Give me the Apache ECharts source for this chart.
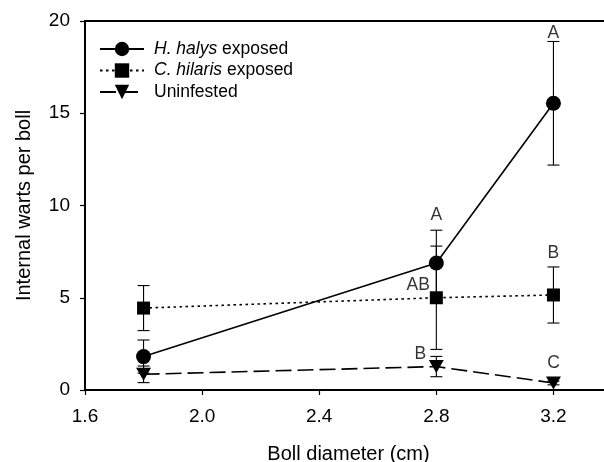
<!DOCTYPE html>
<html><head><meta charset="utf-8">
<script src="https://cdn.jsdelivr.net/npm/echarts@6/dist/echarts.min.js"></script>
<style>html,body{margin:0;padding:0;background:#fff}#c{width:604px;height:462px}</style>
</head><body><div id="c"></div>
<script>
const xVals = [1.8, 2.8, 3.2];
const halysMean = [1.81, 6.88, 15.54];
const halysErr = [0.9, 1.78, 3.35];
const hilarisMean = [4.44, 5.0, 5.15];
const hilarisErr = [1.22, 2.8, 1.52];
const uninfMean = [0.85, 1.27, 0.38];
const uninfErr = [0.45, 0.55, 0.1];
const letterText = ['A', 'A', 'AB', 'B', 'B', 'C'];
const letterX = [2.8, 3.2, 2.738, 3.2, 2.745, 3.2];
const letterY = [9.45, 19.35, 5.7, 7.4, 1.93, 1.45];
const xTicks = [1.6, 2.0, 2.4, 2.8, 3.2];
const yTicks = [0, 5, 10, 15, 20];

const font = 'Liberation Sans, Arial, sans-serif';
const chart = echarts.init(document.getElementById('c'));

function pts(m){ return xVals.map((x,i)=>[x,m[i]]); }
function errData(m,e){ return xVals.map((x,i)=>[x,m[i]-e[i],m[i]+e[i]]); }
function errSeries(m,e){
  return {
    type:'custom', data: errData(m,e), z: 1, silent:true,
    renderItem(params, api){
      const x = api.value(0);
      const lo = api.coord([x, api.value(1)]);
      const hi = api.coord([x, api.value(2)]);
      const w = 6;
      const st = {stroke:'#000', lineWidth:1.1};
      return {type:'group', children:[
        {type:'line', shape:{x1:lo[0],y1:lo[1],x2:hi[0],y2:hi[1]}, style:st},
        {type:'line', shape:{x1:lo[0]-w,y1:lo[1],x2:lo[0]+w,y2:lo[1]}, style:st},
        {type:'line', shape:{x1:hi[0]-w,y1:hi[1],x2:hi[0]+w,y2:hi[1]}, style:st}
      ]};
    }
  };
}

chart.setOption({
  animation:false,
  grid:{left:85, top:21, height:369, width:527, show:true, borderColor:'#000', borderWidth:2,
    containLabel:false, outerBoundsMode:'none'},
  legend:{
    left:94, top:35, orient:'vertical', itemGap:3.5, itemWidth:44, itemHeight:18,
    textStyle:{fontSize:17.5, fontFamily:font, color:'#000', padding:[0,0,0,5],
      rich:{i:{fontStyle:'italic', fontSize:17.5, fontFamily:font, color:'#000'}}},
    formatter(name){
      if(name==='H. halys exposed') return '{i|H. halys} exposed';
      if(name==='C. hilaris exposed') return '{i|C. hilaris} exposed';
      return name;
    },
    data:['H. halys exposed','C. hilaris exposed','Uninfested']
  },
  xAxis:{
    type:'value', min:1.6, max:3.4, interval:0.4,
    name:'Boll diameter (cm)', nameLocation:'middle', nameGap:54,
    nameTextStyle:{fontSize:20, fontFamily:font, color:'#000'},
    axisLine:{lineStyle:{color:'#000', width:2}},
    axisTick:{show:true, length:5, lineStyle:{color:'#000', width:1.2}},
    axisLabel:{color:'#000', fontSize:19, fontFamily:font, margin:17, showMaxLabel:false,
      formatter:(v)=>{ const t = xTicks.find(k=>Math.abs(k-v)<1e-6); return t!==undefined ? t.toFixed(1) : ''; }},
    splitLine:{show:false}
  },
  yAxis:{
    type:'value', min:0, max:20, interval:5,
    name:'Internal warts per boll', nameLocation:'middle', nameGap:51,
    nameTextStyle:{fontSize:20, fontFamily:font, color:'#000'},
    axisLine:{lineStyle:{color:'#000', width:2}},
    axisTick:{show:true, length:5, lineStyle:{color:'#000', width:1.2}},
    axisLabel:{color:'#000', fontSize:19, fontFamily:font, margin:15,
      formatter:(v)=> yTicks.includes(v) ? String(v) : ''},
    splitLine:{show:false}
  },
  series:[
    errSeries(halysMean, halysErr),
    errSeries(hilarisMean, hilarisErr),
    errSeries(uninfMean, uninfErr),
    {name:'H. halys exposed', type:'line', data:pts(halysMean), symbol:'circle', symbolSize:15,
      itemStyle:{color:'#000'}, lineStyle:{color:'#000', width:1.6, type:'solid'}, z:3},
    {name:'C. hilaris exposed', type:'line', data:pts(hilarisMean), symbol:'rect', symbolSize:13,
      itemStyle:{color:'#000'}, lineStyle:{color:'#000', width:1.6, type:[2.5,3.5]}, z:3},
    {name:'Uninfested', type:'line', data:pts(uninfMean), symbol:'triangle', symbolRotate:180, symbolSize:[15,13],
      itemStyle:{color:'#000'}, lineStyle:{color:'#000', width:1.6, type:[16,6]}, z:3},
    {type:'scatter', symbolSize:0, silent:true, z:5,
      data: letterX.map((x,i)=>({value:[x, letterY[i]], label:{formatter: letterText[i]}})),
      label:{show:true, position:'inside', color:'#000', fontSize:17.5, fontFamily:font}}
  ]
});
</script></body></html>
